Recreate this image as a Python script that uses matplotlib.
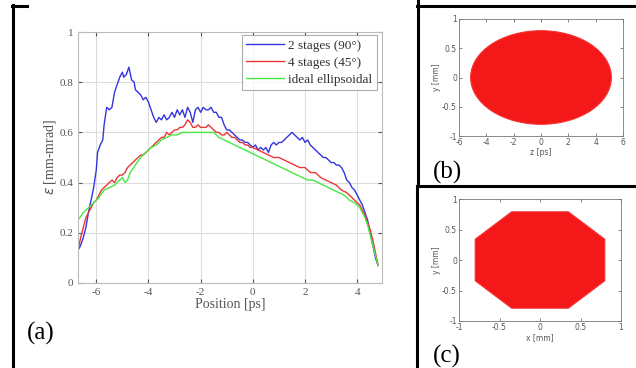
import matplotlib
matplotlib.use('Agg')

import matplotlib.pyplot as plt
from matplotlib.lines import Line2D
from matplotlib.patches import Ellipse, Polygon

plt.rcParams['axes.unicode_minus'] = False

# (a) emittance along the bunch
pos_2st = [-6.70, -6.60, -6.50, -6.40, -6.30, -6.20, -6.10, -6.00, -5.95, -5.85, -5.75, -5.70, -5.60, -5.50,
           -5.40, -5.30, -5.20, -5.10, -5.00, -4.95, -4.85, -4.75, -4.65, -4.55, -4.50, -4.40, -4.30, -4.20,
           -4.10, -4.00, -3.90, -3.80, -3.70, -3.60, -3.50, -3.40, -3.30, -3.20, -3.10, -3.00, -2.90, -2.80,
           -2.70, -2.60, -2.50, -2.40, -2.30, -2.20, -2.10, -2.00, -1.90, -1.80, -1.70, -1.60, -1.50, -1.40,
           -1.30, -1.20, -1.10, -1.00, -0.90, -0.80, -0.70, -0.60, -0.50, -0.40, -0.30, -0.20, -0.10, 0.00,
           0.10, 0.20, 0.30, 0.40, 0.50, 0.60, 0.70, 0.80, 0.90, 1.00, 1.10, 1.20, 1.30, 1.40, 1.50, 1.60,
           1.70, 1.80, 1.90, 2.00, 2.10, 2.20, 2.30, 2.40, 2.50, 2.60, 2.70, 2.80, 2.90, 3.00, 3.10, 3.20,
           3.30, 3.40, 3.50, 3.60, 3.70, 3.80, 3.90, 4.00, 4.10, 4.20, 4.30, 4.40, 4.50, 4.60, 4.70, 4.80]
eps_2st = [0.13, 0.15, 0.18, 0.22, 0.28, 0.33, 0.38, 0.45, 0.52, 0.55, 0.57, 0.63, 0.70, 0.69,
           0.70, 0.76, 0.79, 0.82, 0.84, 0.82, 0.83, 0.86, 0.81, 0.80, 0.77, 0.76, 0.75, 0.73,
           0.74, 0.72, 0.69, 0.66, 0.64, 0.66, 0.65, 0.67, 0.65, 0.66, 0.68, 0.66, 0.69, 0.67,
           0.69, 0.66, 0.70, 0.68, 0.64, 0.69, 0.70, 0.68, 0.70, 0.69, 0.69, 0.70, 0.68, 0.68,
           0.66, 0.66, 0.63, 0.61, 0.61, 0.60, 0.59, 0.58, 0.57, 0.57, 0.56, 0.56, 0.55, 0.54,
           0.55, 0.53, 0.54, 0.53, 0.54, 0.52, 0.55, 0.56, 0.55, 0.56, 0.56, 0.57, 0.58, 0.59, 0.60, 0.59,
           0.58, 0.57, 0.58, 0.56, 0.57, 0.55, 0.54, 0.53, 0.52, 0.51, 0.50, 0.50, 0.49, 0.48, 0.48, 0.47,
           0.47, 0.46, 0.44, 0.41, 0.40, 0.38, 0.37, 0.35, 0.33, 0.31, 0.28, 0.25, 0.20, 0.15, 0.10, 0.07]

pos_4st = [-6.70, -6.60, -6.50, -6.40, -6.30, -6.20, -6.10, -6.00, -5.90, -5.80, -5.70, -5.60, -5.50, -5.40,
           -5.30, -5.20, -5.10, -5.00, -4.90, -4.80, -4.70, -4.60, -4.50, -4.40, -4.30, -4.20, -4.10, -4.00,
           -3.90, -3.80, -3.70, -3.60, -3.50, -3.40, -3.30, -3.20, -3.10, -3.00, -2.90, -2.80, -2.70, -2.60,
           -2.50, -2.40, -2.30, -2.20, -2.10, -2.00, -1.90, -1.80, -1.70, -1.60, -1.50, -1.40, -1.30, -1.20,
           -1.10, -1.00, -0.90, -0.80, -0.70, -0.60, -0.50, -0.40, -0.30, -0.20, -0.10, 0.00, 0.20, 0.40,
           0.60, 0.80, 1.00, 1.20, 1.40, 1.60, 1.80, 2.00, 2.20, 2.40, 2.60, 2.80, 3.00, 3.20, 3.40, 3.60,
           3.80, 4.00, 4.10, 4.20, 4.30, 4.40, 4.50, 4.60, 4.70, 4.80]
eps_4st = [0.13, 0.18, 0.22, 0.26, 0.28, 0.30, 0.32, 0.33, 0.35, 0.37, 0.38, 0.39, 0.40, 0.41,
           0.40, 0.42, 0.43, 0.43, 0.44, 0.46, 0.47, 0.48, 0.49, 0.50, 0.51, 0.51, 0.52, 0.53,
           0.54, 0.55, 0.56, 0.57, 0.58, 0.58, 0.60, 0.59, 0.60, 0.61, 0.61, 0.62, 0.62, 0.63,
           0.65, 0.64, 0.62, 0.62, 0.63, 0.62, 0.62, 0.62, 0.63, 0.62, 0.61, 0.60, 0.60, 0.59,
           0.59, 0.60, 0.59, 0.58, 0.58, 0.57, 0.56, 0.56, 0.55, 0.55, 0.54, 0.54, 0.53, 0.52,
           0.51, 0.50, 0.50, 0.49, 0.48, 0.47, 0.46, 0.46, 0.44, 0.44, 0.42, 0.41, 0.40, 0.39, 0.37, 0.36,
           0.34, 0.32, 0.31, 0.29, 0.27, 0.24, 0.21, 0.17, 0.12, 0.07]

pos_ideal = [-6.70, -6.50, -6.30, -6.10, -5.90, -5.70, -5.50, -5.30, -5.10, -5.00, -4.90, -4.80, -4.70, -4.50,
             -4.30, -4.10, -3.90, -3.70, -3.50, -3.30, -3.10, -2.90, -2.70, -2.50, -2.30, -2.10, -1.90, -1.70,
             -1.50, -1.30, -1.10, -0.90, -0.70, -0.50, -0.30, -0.10, 0.10, 0.30, 0.50, 0.70, 0.90, 1.10,
             1.30, 1.50, 1.70, 1.90, 2.10, 2.30, 2.50, 2.70, 2.90, 3.10, 3.30, 3.50, 3.70, 3.90, 4.10, 4.20,
             4.30, 4.40, 4.50, 4.60, 4.70, 4.80]
eps_ideal = [0.25, 0.28, 0.30, 0.32, 0.34, 0.37, 0.38, 0.39, 0.41, 0.42, 0.40, 0.41, 0.44, 0.47,
             0.50, 0.52, 0.54, 0.55, 0.57, 0.58, 0.59, 0.59, 0.60, 0.60, 0.60, 0.60, 0.60, 0.60,
             0.60, 0.58, 0.57, 0.56, 0.55, 0.54, 0.53, 0.52, 0.51, 0.50, 0.49, 0.48, 0.47, 0.46,
             0.45, 0.44, 0.43, 0.42, 0.41, 0.41, 0.40, 0.39, 0.38, 0.37, 0.36, 0.35, 0.33, 0.32, 0.30, 0.28,
             0.26, 0.23, 0.19, 0.15, 0.11, 0.07]

labels_a = ['2 stages (90°)', '4 stages (45°)', 'ideal ellipsoidal']

# (b) ellipsoidal bunch, z-y projection: semi-axes
ell_z, ell_y = 5.15, 0.80
# (c) octagonal x-y projection: corner points
oct_x = [-0.35, 0.35, 0.80, 0.80, 0.35, -0.35, -0.80, -0.80]
oct_y = [0.79, 0.79, 0.34, -0.34, -0.79, -0.79, -0.34, 0.34]

W, H = 636, 368
fig = plt.figure(figsize=(W / 100, H / 100), dpi=100)


def box(l, t, r, b):
    return [l / W, 1 - b / H, (r - l) / W, (b - t) / H]


def hline(x0, x1, y, lw=2.2):
    fig.add_artist(Line2D([x0 / W, x1 / W], [1 - y / H, 1 - y / H], color='black', lw=lw,
                          transform=fig.transFigure))


def vline(x, y0, y1, lw=2.2):
    fig.add_artist(Line2D([x / W, x / W], [1 - y0 / H, 1 - y1 / H], color='black', lw=lw,
                          transform=fig.transFigure))


serif = 'Liberation Serif'
gray = '#555555'

# ---- (a)
ax = fig.add_axes(box(78, 32, 382, 283))
ax.plot(pos_2st, eps_2st, color='#3434e0', lw=1.0, label=labels_a[0])
ax.plot(pos_4st, eps_4st, color='#ec3535', lw=1.0, label=labels_a[1])
ax.plot(pos_ideal, eps_ideal, color='#45e845', lw=1.0, label=labels_a[2])
ax.set_xlim(-6.7, 4.95)
ax.set_ylim(0, 1)
ax.set_xticks([-6, -4, -2, 0, 2, 4])
ax.set_yticks([0, 0.2, 0.4, 0.6, 0.8, 1])
ax.set_yticklabels(['0', '0.2', '0.4', '0.6', '0.8', '1'])
ax.grid(True, color='#dddddd', lw=0.8)
ax.tick_params(direction='in', length=3, labelsize=8, colors=gray, top=True, right=True)
for lab in ax.get_xticklabels() + ax.get_yticklabels():
    lab.set_family(serif)
for s in ax.spines.values():
    s.set_color('#bbbbbb')
ax.set_xlabel('Position [ps]', family=serif, fontsize=10, color=gray, labelpad=1)
ax.set_ylabel('$\\epsilon$ [mm-mrad]', family=serif, fontsize=10, color=gray, labelpad=1)
leg = ax.legend(loc='upper right', bbox_to_anchor=(0.984, 0.988), borderaxespad=0,
                prop={'family': serif, 'size': 9.5}, fancybox=False, handlelength=2.9,
                handletextpad=0.3, borderpad=0.35, labelspacing=0.35)
leg.get_frame().set_edgecolor('#999999')
leg.get_frame().set_linewidth(0.8)
for t in leg.get_texts():
    t.set_color('#333333')

# ---- (b)
axb = fig.add_axes(box(459, 19, 623, 136))
axb.add_patch(Ellipse((0, 0), 2 * ell_z, 2 * ell_y, facecolor='#f41818', edgecolor='#f83030', lw=0.8))
axb.set_xlim(-6, 6)
axb.set_ylim(-1, 1)
axb.set_xticks([-6, -4, -2, 0, 2, 4, 6])
axb.set_yticks([-1, -0.5, 0, 0.5, 1])
axb.set_yticklabels(['-1', '-0.5', '0', '0.5', '1'])
axb.set_xticklabels(['-6', '-4', '-2', '0', '2', '4', '6'])
axb.set_xlabel('z [ps]', fontsize=5.5, color=gray, labelpad=1)
axb.set_ylabel('y [mm]', fontsize=5.5, color=gray, labelpad=1)

# ---- (c)
axc = fig.add_axes(box(459, 199, 621, 321))
axc.add_patch(Polygon(list(zip(oct_x, oct_y)), closed=True, facecolor='#f41818', edgecolor='#f83030', lw=0.8))
axc.set_xlim(-1, 1)
axc.set_ylim(-1, 1)
axc.set_xticks([-1, -0.5, 0, 0.5, 1])
axc.set_yticks([-1, -0.5, 0, 0.5, 1])
axc.set_xticklabels(['-1', '-0.5', '0', '0.5', '1'])
axc.set_yticklabels(['-1', '-0.5', '0', '0.5', '1'])
axc.set_xlabel('x [mm]', fontsize=5.5, color=gray, labelpad=1)
axc.set_ylabel('y [mm]', fontsize=5.5, color=gray, labelpad=1)

for a in (axb, axc):
    a.tick_params(direction='in', length=2, width=0.5, labelsize=5.5, colors=gray, top=True, right=True, pad=1.5)
    for s in a.spines.values():
        s.set_color('#777777')
        s.set_linewidth(0.6)

# panel letters
fig.text(27 / W, 1 - 333 / H, '(a)', family=serif, fontsize=18, va='center', ha='left')
fig.text(433 / W, 1 - 172 / H, '(b)', family=serif, fontsize=18, va='center', ha='left')
fig.text(433 / W, 1 - 356 / H, '(c)', family=serif, fontsize=18, va='center', ha='left')

# frame lines around the panels
vline(13, 5, 368)
hline(12, 27, 6)
vline(418, 0, 183)
vline(417, 186, 368)
hline(417, 636, 6)
hline(417, 636, 186)

fig.savefig('out.png', dpi=100)
plt.close(fig)
